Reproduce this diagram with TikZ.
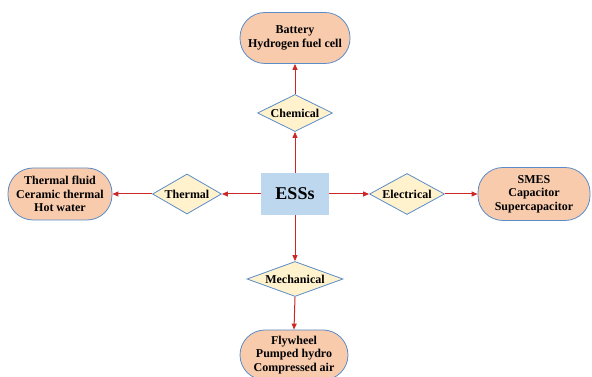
\documentclass[tikz,border=0pt]{standalone}
\usepackage{fontspec}
\setmainfont{Liberation Serif}
\usetikzlibrary{shapes.geometric,arrows.meta}
\definecolor{pillfill}{RGB}{248,203,173}
\definecolor{edgeblue}{RGB}{91,140,200}
\definecolor{diafill}{RGB}{255,242,204}
\definecolor{boxfill}{RGB}{189,215,238}
\definecolor{arrred}{RGB}{205,40,40}
\tikzset{
  pill/.style={draw=edgeblue, line width=0.8pt, fill=pillfill, rectangle, rounded corners=25pt, align=center, font=\bfseries\fontsize{12}{13.5}\selectfont, inner sep=0pt},
  dia/.style={draw=edgeblue, line width=0.8pt, fill=diafill, diamond, inner sep=0pt, font=\bfseries\fontsize{12}{13.5}\selectfont},
  essbox/.style={fill=boxfill, rectangle, inner sep=0pt, font=\bfseries\fontsize{18}{20}\selectfont},
  conn/.style={draw=arrred, line width=1pt, -{Triangle[length=6pt,width=5pt]}}
}
\begin{document}
\begin{tikzpicture}[x=1pt,y=1pt]
\useasboundingbox (0,0) rectangle (592,377);
\node[essbox, minimum width=68pt, minimum height=42pt] (ess) at (295,183) {ESSs};
\node[dia, shape aspect=2.03, minimum width=75pt, minimum height=37pt] (chem) at (295,264) {Chemical};
\node[dia, shape aspect=1.72, minimum width=69pt, minimum height=40pt] (therm) at (187,183) {Thermal};
\node[dia, shape aspect=1.83, minimum width=75pt, minimum height=41pt] (elec) at (407,183) {Electrical};
\node[dia, shape aspect=2.74, minimum width=96pt, minimum height=35pt] (mech) at (295,98) {Mechanical};
\node[pill, minimum width=110pt, minimum height=51pt] (top) at (295,339) {Battery\\Hydrogen fuel cell};
\node[pill, minimum width=104pt, minimum height=52pt] (left) at (60,183) {Thermal fluid\\Ceramic thermal\\Hot water};
\node[pill, minimum width=112pt, minimum height=53pt] (right) at (534,183) {SMES\\Capacitor\\Supercapacitor};
\node[pill, minimum width=108pt, minimum height=50pt] (bot) at (294,22) {Flywheel\\Pumped hydro\\Compressed air};
\draw[conn] (ess.north) -- (chem.south);
\draw[conn] (chem.north) -- (top.south);
\draw[conn] (ess.west) -- (therm.east);
\draw[conn] (therm.west) -- (left.east);
\draw[conn] (ess.east) -- (elec.west);
\draw[conn] (elec.east) -- (right.west);
\draw[conn] (ess.south) -- (mech.north);
\draw[conn] (mech.south) -- (bot.north);
\end{tikzpicture}
\end{document}
